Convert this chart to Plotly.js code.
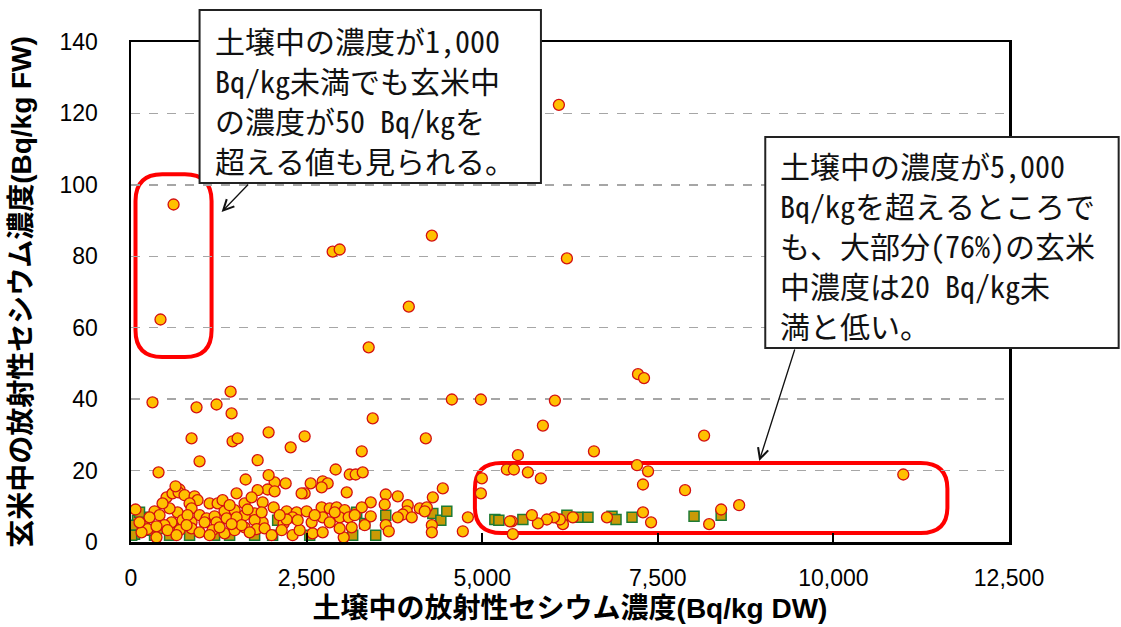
<!DOCTYPE html>
<html>
<head>
<meta charset="utf-8">
<script src="https://cdn.plot.ly/plotly-3.0.1.min.js"></script>
<style>html,body{margin:0;padding:0;background:#fff}#chart{width:1121px;height:627px}</style>
</head>
<body>
<div id="chart"></div>
<script>
// Soil concentration (Bq/kg DW) and brown-rice concentration (Bq/kg FW)
// Series A: orange circles
const soilA = [606,420,6092,2871,2971,4283,6206,3955,3384,7218,7304,306,1418,1218,933,1432,4568,4981,6035,5864,
3441,862,1446,1518,1959,2472,2273,4197,8159,3285,6591,5508,976,1803,7204,7361,392,2914,3114,3199,
3299,5351,5451,5650,5835,4995,10995,7289,7888,4439,1632,2045,2202,2558,2729,2800,2714,1959,8658,8402,
8231,7404,7289,6776,6291,6149,6106,6021,5921,5793,5707,5422,5394,5436,4796,4724,4981,4297,3627,3798,
3612,3940,3926,3869,3798,3997,4111,4211,4182,3627,3670,4283,4283,3413,3413,3071,2472,2429,1945,1803,
2045,1874,1760,2031,2216,2358,2501,2714,2829,2928,3042,2729,2971,3099,2301,2173,1874,1760,1788,1902,
2145,2301,2401,2586,2729,3028,3142,2216,2572,2829,64,335,506,591,691,677,762,905,948,834,
1119,1233,1503,1304,663,862,976,1076,1190,1332,1475,1617,406,577,477,734,862,1047,1218,1361,
1503,235,363,520,691,862,976,1161,1332,1475,1617,150,648,1119,363,1575,264,121,805,549,
449,1404,1617,1717,1660,1860,2116,2373,2615,2900,3285,3185,3327,2971,2002,1689,1261,791,1432,634];
const riceA = [94.5,62.3,122.4,81.3,81.9,85.8,79.4,65.9,54.5,47.0,45.9,39.1,42.1,38.5,37.7,36.0,39.9,39.9,39.6,32.6,
34.6,29.0,28.2,29.0,30.7,29.6,26.5,29.0,29.8,25.4,25.4,24.3,22.6,22.9,21.5,19.8,19.5,20.3,18.9,18.9,
19.5,20.3,20.3,19.5,17.8,17.8,18.9,16.1,14.5,15.0,17.5,16.7,16.4,16.4,17.0,16.4,15.3,18.7,10.3,9.1,
5.0,5.5,8.3,6.9,6.9,5.0,6.3,6.9,6.3,5.2,7.5,5.8,5.8,2.2,6.9,3.0,13.6,12.5,13.3,12.8,
10.5,10.3,8.6,7.7,6.9,6.9,9.4,9.7,8.6,4.7,3.0,4.7,2.7,11.1,7.2,13.9,13.6,13.6,14.7,14.5,
14.2,11.1,8.0,9.7,8.6,8.3,8.6,9.7,9.4,9.7,8.9,6.9,6.9,6.9,6.9,5.2,5.5,6.1,3.6,3.8,
3.3,1.9,3.3,2.4,2.7,1.3,4.1,6.3,5.5,5.5,9.1,8.6,12.5,13.6,14.7,13.9,13.1,12.8,11.7,10.8,
10.8,10.8,13.6,11.7,8.3,9.4,7.5,6.6,7.2,8.6,8.9,7.5,7.5,5.5,4.7,6.1,5.5,5.5,5.5,6.6,
6.9,3.6,4.4,3.3,3.3,3.8,2.7,3.3,2.4,3.3,4.1,2.7,1.9,1.9,1.3,4.7,6.9,5.5,7.5,9.4,
10.8,10.3,10.8,12.5,9.1,8.3,7.5,6.1,7.5,8.3,9.7,7.5,4.7,3.8,1.9,2.7,4.1,4.7,5.0,15.6];
// Series B: green-edged squares
const soilB = [93,221,50,192,21,10,335,549,834,1190,1404,1760,2088,2016,2544,3156,3213,3327,3484,3627,
4297,4411,4496,5180,5237,5579,6206,6363,6506,6848,6905,7133,8016,8402,406,620,121,264];
const riceB = [6.1,6.9,2.2,4.7,4.7,1.9,1.9,1.9,1.9,1.9,1.9,1.9,6.1,1.9,1.9,1.9,8.3,5.2,1.9,7.5,
8.0,6.1,8.6,6.3,6.1,6.3,7.5,6.9,6.9,7.2,6.3,6.9,7.2,7.5,3.8,3.8,8.3,3.3];

const xTitle = '土壌中の放射性セシウム濃度(Bq/kg DW)';
const yTitle = '玄米中の放射性セシウム濃度(Bq/kg FW)';
const note1 = ['土壌中の濃度が1,000', 'Bq/kg未満でも玄米中', 'の濃度が50 Bq/kgを', '超える値も見られる。'];
const note2 = ['土壌中の濃度が5,000', 'Bq/kgを超えるところで', 'も、大部分(76%)の玄米', '中濃度は20 Bq/kg未', '満と低い。'];

function roundRect(x0, x1, y0, y1, rx, ry) {
  return `M${x0+rx},${y1} L${x1-rx},${y1} Q${x1},${y1} ${x1},${y1-ry} L${x1},${y0+ry} Q${x1},${y0} ${x1-rx},${y0} ` +
         `L${x0+rx},${y0} Q${x0},${y0} ${x0},${y0+ry} L${x0},${y1-ry} Q${x0},${y1} ${x0+rx},${y1} Z`;
}

const traces = [
  {type:'scatter', mode:'markers', x:soilB, y:riceB, cliponaxis:true,
   marker:{symbol:'square', size:10, color:'#C99A06', line:{color:'#1E7B34', width:1.5}}},
  {type:'scatter', mode:'markers', x:soilA, y:riceA, cliponaxis:true,
   marker:{symbol:'circle', size:11, color:'#FFC000', line:{color:'#D41010', width:1.3}}}
];

const cjk = '"Noto Sans CJK JP", "Noto Sans", sans-serif';
const txtFont = {family: '"Noto Sans Mono CJK JP", "Noto Sans CJK JP", monospace', size: 30, color: '#111'};
const annotations = [];
note1.forEach((t, i) => annotations.push({xref:'paper', yref:'paper', x:0.093, y:1.004 - i*0.08,
  xanchor:'left', yanchor:'middle', text:t, showarrow:false, font:txtFont}));
note2.forEach((t, i) => annotations.push({xref:'paper', yref:'paper', x:0.737, y:0.754 - i*0.08,
  xanchor:'left', yanchor:'middle', text:t, showarrow:false, font:txtFont}));
annotations.push({xref:'paper', yref:'paper', x:0.1032, y:0.66, ax:28, ay:-29, text:'', showarrow:true,
  arrowhead:5, arrowsize:1.6, arrowwidth:1.3, arrowcolor:'#111', standoff:0, startstandoff:0});
annotations.push({xref:'paper', yref:'paper', x:0.7155, y:0.162, ax:36, ay:-113, text:'', showarrow:true,
  arrowhead:5, arrowsize:1.6, arrowwidth:1.3, arrowcolor:'#111', standoff:0, startstandoff:0});

const shapes = [
  {type:'path', xref:'x', yref:'y', layer:'below', path: roundRect(64, 1147, 51.8, 103.0, 380, 7.5),
   line:{color:'#FF0000', width:4}},
  {type:'path', xref:'x', yref:'y', layer:'below', path: roundRect(4896, 11623, 2.5, 22.1, 380, 7.2),
   line:{color:'#FF0000', width:4}},
  {type:'rect', xref:'paper', yref:'paper', layer:'above', x0:0.0781, x1:0.4669, y0:0.718, y1:1.064,
   fillcolor:'#FFFFFF', line:{color:'#222', width:2}},
  {type:'rect', xref:'paper', yref:'paper', layer:'above', x0:0.7224, x1:1.1249, y0:0.388, y1:0.81,
   fillcolor:'#FFFFFF', line:{color:'#222', width:2}}
];

const axisFont = {family:'"Liberation Sans", Arial, sans-serif', size:23, color:'#000'};
const titleFont = {family:'"Liberation Sans", Arial, ' + cjk, size:28, color:'#000', weight:'bold'};

const layout = {
  width:1121, height:627,
  margin:{l:131, r:112, t:42, b:85, pad:0},
  paper_bgcolor:'#FFFFFF', plot_bgcolor:'#FFFFFF',
  showlegend:false,
  xaxis:{range:[0,12500], dtick:2500, tick0:0, tickformat:',d', ticks:'inside', ticklen:9, tickwidth:2,
    tickcolor:'#000', showline:true, linecolor:'#000', linewidth:2.5, mirror:true, showgrid:false,
    zeroline:false, tickfont:axisFont, ticklabelstandoff:14, automargin:false,
    title:{text:xTitle, font:titleFont, standoff:9}},
  yaxis:{range:[0,140], dtick:20, tick0:0, ticks:'', showline:true, linecolor:'#000', linewidth:2.5,
    mirror:true, showgrid:true, gridcolor:'#A6A6A6', gridwidth:1.5, griddash:'dash', zeroline:false,
    tickfont:axisFont, ticklabelstandoff:26, automargin:false,
    title:{text:yTitle, font:titleFont, standoff:20}},
  shapes: shapes,
  annotations: annotations
};

Plotly.newPlot('chart', traces, layout, {staticPlot:true, displayModeBar:false});
</script>
</body>
</html>
